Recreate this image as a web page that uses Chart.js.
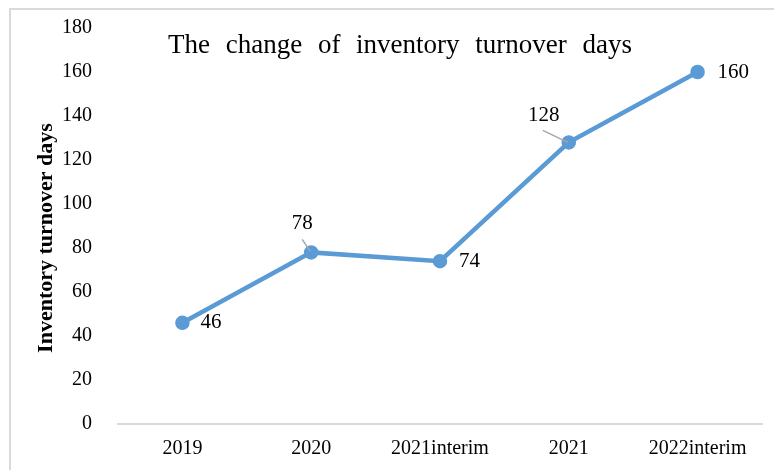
<!DOCTYPE html>
<html>
<head>
<meta charset="utf-8">
<script src="https://cdn.jsdelivr.net/npm/chart.js@4"></script>
<style>
  html, body { margin: 0; padding: 0; background: #fff; }
  #wrap { position: relative; width: 774px; height: 470px; }
</style>
</head>
<body>
<div id="wrap"><canvas id="c" width="774" height="470"></canvas></div>
<script>
// ---- data ----
const categories = ['2019', '2020', '2021interim', '2021', '2022interim'];
const turnoverDays = [46, 78, 74, 128, 160];
const yTicks = [0, 20, 40, 60, 80, 100, 120, 140, 160, 180];
const chartTitle = 'The change of inventory turnover days';
const yAxisTitle = 'Inventory turnover days';

// ---- label placement (style) ----
const labelPlacement = [
  { mode: 'right', dx: 18, dy: 0 },
  { mode: 'above', dx: -9, dy: -29, leader: [[-9, -13], [-1, -1]] },
  { mode: 'right', dx: 19, dy: 0 },
  { mode: 'above', dx: -25, dy: -27, leader: [[-26, -12], [-1, 0]] },
  { mode: 'right', dx: 20, dy: 0 }
];

const SERIF = '"Liberation Serif", "Times New Roman", serif';
const LINE_COLOR = '#5B9BD5';

const decorPlugin = {
  id: 'decor',
  beforeDraw(chart) {
    const ctx = chart.ctx;
    ctx.save();
    ctx.fillStyle = '#fff';
    ctx.fillRect(0, 0, chart.width, chart.height);
    ctx.strokeStyle = '#d9d9d9';
    ctx.lineWidth = 2;
    ctx.strokeRect(10, 9, chart.width + 10, chart.height + 10);
    ctx.restore();
  },
  afterDraw(chart) {
    const ctx = chart.ctx;
    ctx.save();
    // title
    ctx.font = '27px ' + SERIF;
    ctx.fillStyle = '#000';
    ctx.textBaseline = 'middle';
    ctx.textAlign = 'left';
    const targetW = 464;
    const words = chartTitle.split(' ');
    const plainW = words.reduce((s, w) => s + ctx.measureText(w).width, 0);
    const gap = (targetW - plainW) / (words.length - 1);
    let x = 400 - targetW / 2;
    const ty = 46;
    words.forEach(w => {
      ctx.fillText(w, x, ty);
      x += ctx.measureText(w).width + gap;
    });

    // y axis title
    ctx.save();
    ctx.translate(46, 238);
    ctx.rotate(-Math.PI / 2);
    ctx.font = 'bold 22px ' + SERIF;
    ctx.textAlign = 'center';
    ctx.textBaseline = 'middle';
    ctx.fillText(yAxisTitle, 0, 0);
    ctx.restore();

    // data labels
    const meta = chart.getDatasetMeta(0);
    ctx.font = '21px ' + SERIF;
    ctx.textBaseline = 'middle';
    meta.data.forEach((pt, i) => {
      const p = labelPlacement[i];
      const v = turnoverDays[i];
      if (p.leader) {
        ctx.strokeStyle = '#a6a6a6';
        ctx.lineWidth = 1.5;
        ctx.beginPath();
        ctx.moveTo(pt.x + p.leader[0][0], pt.y + p.leader[0][1]);
        ctx.lineTo(pt.x + p.leader[1][0], pt.y + p.leader[1][1]);
        ctx.stroke();
      }
      ctx.fillStyle = '#000';
      ctx.textAlign = p.mode === 'right' ? 'left' : 'center';
      ctx.fillText(String(v), pt.x + p.dx, pt.y + p.dy);
    });
    ctx.restore();
  }
};

new Chart(document.getElementById('c'), {
  type: 'line',
  data: {
    labels: categories,
    datasets: [{
      data: turnoverDays,
      borderColor: LINE_COLOR,
      backgroundColor: LINE_COLOR,
      borderWidth: 4.5,
      pointRadius: 5,
      pointHoverRadius: 5,
      pointBackgroundColor: LINE_COLOR,
      pointBorderColor: LINE_COLOR,
      tension: 0,
      fill: false
    }]
  },
  options: {
    responsive: false,
    animation: false,
    events: [],
    layout: { padding: { left: 10, right: 12, top: 11, bottom: 6 } },
    plugins: {
      legend: { display: false },
      title: { display: false },
      tooltip: { enabled: false }
    },
    scales: {
      x: {
        type: 'category',
        offset: true,
        grid: { display: false },
        border: { display: true, color: '#d9d9d9', width: 2 },
        ticks: {
          color: '#000',
          font: { family: SERIF, size: 20 },
          padding: 5,
          maxRotation: 0,
          autoSkip: false
        },
        afterFit(s) { s.height = 40; }
      },
      y: {
        min: 0,
        max: 180,
        afterBuildTicks(s) { s.ticks = yTicks.map(v => ({ value: v })); },
        grid: { display: false },
        border: { display: false },
        ticks: {
          color: '#000',
          font: { family: SERIF, size: 20, lineHeight: 1 },
          padding: 18
        },
        afterFit(s) { s.width = 108; }
      }
    }
  },
  plugins: [decorPlugin]
});
</script>
</body>
</html>
